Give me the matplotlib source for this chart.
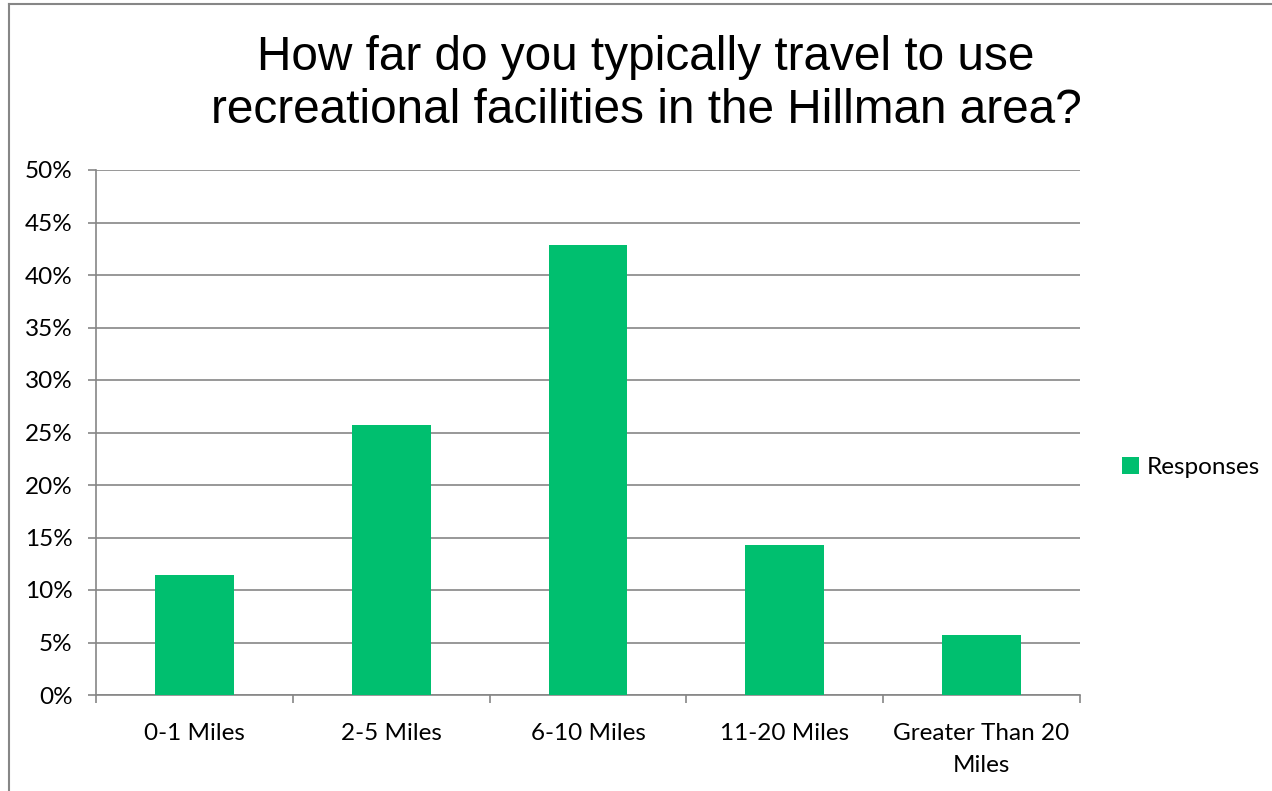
import matplotlib.pyplot as plt
import numpy as np
from matplotlib.lines import Line2D
from matplotlib.ticker import PercentFormatter

categories = ["0-1 Miles", "2-5 Miles", "6-10 Miles", "11-20 Miles", "Greater Than 20\nMiles"]
responses = [11.43, 25.71, 42.86, 14.29, 5.71]
yticks = [0, 5, 10, 15, 20, 25, 30, 35, 40, 45, 50]

green = "#00BF6F"
grid_col = "#868686"
fs = 17.5

fig = plt.figure(figsize=(12.72, 7.91), dpi=100)
ax = fig.add_axes([96 / 1272, 96 / 791, 984 / 1272, 525 / 791])

x = np.arange(len(categories))
ax.bar(x, responses, width=0.4, color=green, label="Responses", zorder=3)

ax.set_xlim(-0.5, len(categories) - 0.5)
ax.set_ylim(0, 50)
ax.set_yticks(yticks)
ax.yaxis.set_major_formatter(PercentFormatter(decimals=0))
ax.grid(axis="y", color=grid_col, linewidth=1.2, zorder=0)

ax.set_xticks(x)
ax.set_xticklabels(categories, fontsize=fs, fontfamily="Lato", linespacing=1.65)
ax.set_xticks(np.arange(len(categories) + 1) - 0.5, minor=True)
ax.tick_params(axis="x", which="major", length=0, pad=20)
ax.tick_params(axis="x", which="minor", length=6, color=grid_col, width=1.2)
ax.tick_params(axis="y", length=6, color=grid_col, width=1.2, labelsize=fs, pad=11)
for lab in ax.get_yticklabels():
    lab.set_fontfamily("Lato")

for s in ["top", "right"]:
    ax.spines[s].set_visible(False)
for s in ["left", "bottom"]:
    ax.spines[s].set_color(grid_col)
    ax.spines[s].set_linewidth(1.2)

fig.text(646 / 1272, 1 - 84 / 791, "How far do you typically travel to use\nrecreational facilities in the Hillman area?",
         ha="center", va="center", fontsize=34.4, fontfamily="Liberation Sans", linespacing=1.25)

ax.legend(loc="center left", bbox_to_anchor=(1.02, 0.434), frameon=False,
          prop={"family": "Lato", "size": fs}, handlelength=0.7, handleheight=0.7,
          handletextpad=0.35)

fig.add_artist(Line2D([9 / 1272, 9 / 1272], [0, 1 - 4 / 791], color=grid_col, linewidth=1.5))
fig.add_artist(Line2D([9 / 1272, 1], [1 - 4 / 791, 1 - 4 / 791], color=grid_col, linewidth=1.5))

fig.savefig("out.png", dpi=100)
